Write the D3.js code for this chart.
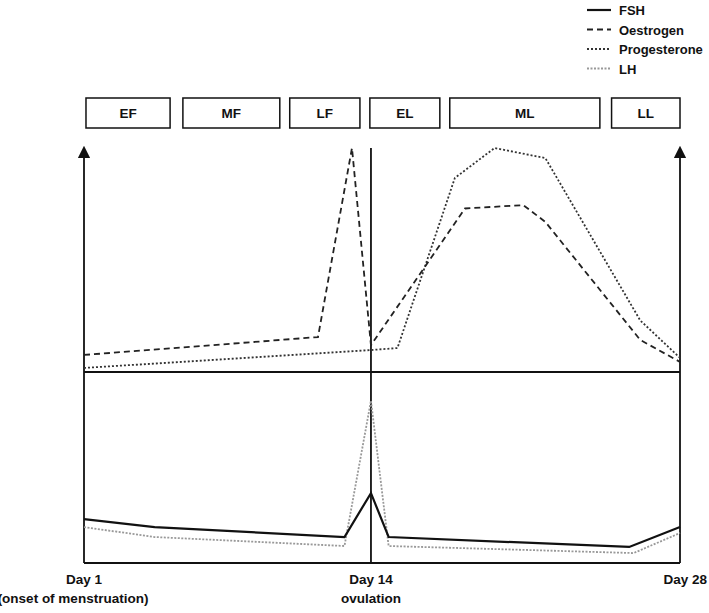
<!DOCTYPE html>
<html lang="en">
<head>
<meta charset="UTF-8" />
<script src="https://d3js.org/d3.v7.min.js"></script>
<style>
  body { margin: 0; background: white; }
  text { font-family: "Liberation Sans", Arial, sans-serif; font-weight: bold; font-size: 13.5px; fill: #111; }
</style>
</head>
<body>
<script>
// values are 0-100 relative levels within each panel
const oestrogen = [[1, 7.6], [11.6, 15.6], [13.14, 100], [14, 12], [18.26, 73], [20.9, 74.5], [21.9, 67], [26.2, 14.3], [28, 4.5]];
const progesterone = [[1, 1.8], [14, 9.8], [15.2, 10.7], [17.8, 86.6], [19.6, 100], [21.9, 95.5], [26.2, 23], [28, 6.3]];
const fsh = [[1, 23], [4.2, 18.8], [12.8, 13.6], [14, 36.6], [14.8, 13.6], [25.7, 8.4], [28, 18.8]];
const lh = [[1, 18.8], [4.2, 13.6], [12.8, 8.9], [14, 85], [14.8, 8.9], [25.9, 5.2], [28, 15.7]];
const phases = [["EF", 1.09, 4.9], ["MF", 5.48, 9.87], ["LF", 10.32, 13.5], ["EL", 13.95, 17.12], ["ML", 17.57, 24.37], ["LL", 24.9, 28]];
const legendItems = [["FSH", "solid"], ["Oestrogen", "dash"], ["Progesterone", "dot"], ["LH", "lightdot"]];

const width = 709, height = 613;
const svg = d3.select("body").append("svg").attr("width", width).attr("height", height);

const x = d3.scaleLinear().domain([1, 28]).range([84, 680]);
const yTop = d3.scaleLinear().domain([0, 100]).range([372, 148]);
const yBot = d3.scaleLinear().domain([0, 100]).range([563, 372]);

const styles = {
  solid: { stroke: "#111", dash: null, w: 2.2 },
  dash: { stroke: "#222", dash: "6,4", w: 1.8 },
  dot: { stroke: "#333", dash: "2,2", w: 1.8 },
  lightdot: { stroke: "#999", dash: "2,1.5", w: 1.8 }
};

svg.append("defs").append("marker")
  .attr("id", "arr").attr("viewBox", "0 0 10 10").attr("refX", 5).attr("refY", 5)
  .attr("markerWidth", 7).attr("markerHeight", 7).attr("orient", "auto")
  .append("path").attr("d", "M0,0L10,5L0,10z").attr("fill", "#111");

// axes frame
[1, 28].forEach(d => {
  svg.append("line").attr("x1", x(d)).attr("x2", x(d)).attr("y1", 563).attr("y2", 152)
    .attr("stroke", "#111").attr("stroke-width", 1.8).attr("marker-end", "url(#arr)");
});
svg.append("line").attr("x1", x(14)).attr("x2", x(14)).attr("y1", 148).attr("y2", 563)
  .attr("stroke", "#111").attr("stroke-width", 1.8);
[372, 563].forEach(yy => {
  svg.append("line").attr("x1", x(1)).attr("x2", x(28)).attr("y1", yy).attr("y2", yy)
    .attr("stroke", "#111").attr("stroke-width", 1.8);
});

function draw(data, y, st) {
  const s = styles[st];
  svg.append("path").datum(data)
    .attr("d", d3.line().x(d => x(d[0])).y(d => y(d[1])))
    .attr("fill", "none").attr("stroke", s.stroke).attr("stroke-width", s.w)
    .attr("stroke-dasharray", s.dash);
}
draw(progesterone, yTop, "dot");
draw(oestrogen, yTop, "dash");
draw(lh, yBot, "lightdot");
draw(fsh, yBot, "solid");

// phase boxes
const pg = svg.append("g").selectAll("g").data(phases).join("g");
pg.append("rect").attr("x", d => x(d[1])).attr("width", d => x(d[2]) - x(d[1]))
  .attr("y", 98).attr("height", 30).attr("fill", "white").attr("stroke", "#111").attr("stroke-width", 1.5);
pg.append("text").attr("x", d => (x(d[1]) + x(d[2])) / 2).attr("y", 118)
  .attr("text-anchor", "middle").text(d => d[0]);

// legend
const lg = svg.append("g").selectAll("g").data(legendItems).join("g")
  .attr("transform", (d, i) => `translate(587,${10 + i * 19.5})`);
lg.append("line").attr("x1", 0).attr("x2", 24).attr("y1", 0).attr("y2", 0)
  .attr("stroke", d => styles[d[1]].stroke).attr("stroke-width", d => styles[d[1]].w)
  .attr("stroke-dasharray", d => styles[d[1]].dash);
lg.append("text").attr("x", 32).attr("y", 5).style("font-size", "13px").text(d => d[0]);

// day labels
svg.append("text").attr("x", x(1)).attr("y", 584).attr("text-anchor", "middle").text("Day 1");
svg.append("text").attr("x", 73).attr("y", 603).attr("text-anchor", "middle").text("(onset of menstruation)");
svg.append("text").attr("x", x(14)).attr("y", 584).attr("text-anchor", "middle").text("Day 14");
svg.append("text").attr("x", x(14)).attr("y", 603).attr("text-anchor", "middle").text("ovulation");
svg.append("text").attr("x", 707).attr("y", 584).attr("text-anchor", "end").text("Day 28");
</script>
</body>
</html>
